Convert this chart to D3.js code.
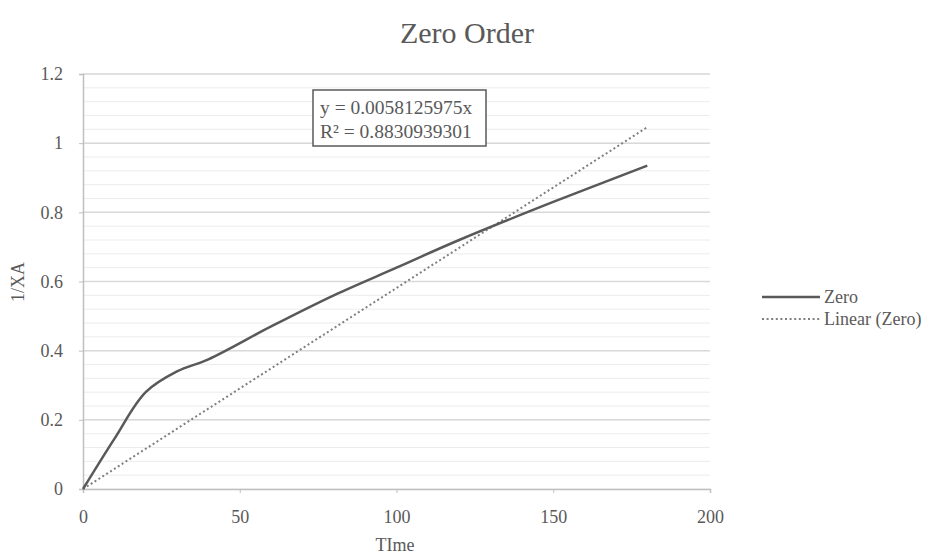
<!DOCTYPE html>
<html><head><meta charset="utf-8">
<script src="https://cdn.jsdelivr.net/npm/d3@7"></script>
<style>body{margin:0;background:#fff}svg{display:block}text{font-family:"Liberation Serif","Times New Roman",serif;fill:#595959}</style>
</head><body><svg id="c" width="940" height="555"></svg>
<script>
const times = [0, 10, 20, 30, 40, 60, 80, 100, 120, 150, 180];
const zeroValues = [0, 0.145, 0.28, 0.34, 0.375, 0.47, 0.56, 0.64, 0.72, 0.83, 0.935];
const slope = 0.0058125975;
const xTicks = [0, 50, 100, 150, 200];
const yTicks = [0, 0.2, 0.4, 0.6, 0.8, 1, 1.2];
const yMinorTicks = d3.range(0, 1.2001, 0.04);
const labels = {title: "Zero Order", x: "TIme", y: "1/XA", series: "Zero", trend: "Linear (Zero)",
  eq: "y = 0.0058125975x", r2: "R² = 0.8830939301"};

const svg = d3.select("#c");
const x = d3.scaleLinear().domain([0, 200]).range([83, 710]);
const y = d3.scaleLinear().domain([0, 1.2]).range([489, 74]);

// minor gridlines
svg.append("g").selectAll("line").data(yMinorTicks).join("line")
  .attr("x1", x(0)).attr("x2", x(200)).attr("y1", d => y(d)).attr("y2", d => y(d))
  .attr("stroke", "#ececec").attr("stroke-width", 1);
// major gridlines
svg.append("g").selectAll("line").data(yTicks.slice(1)).join("line")
  .attr("x1", x(0)).attr("x2", x(200)).attr("y1", d => y(d)).attr("y2", d => y(d))
  .attr("stroke", "#d9d9d9").attr("stroke-width", 1.5);

// axes
const xAxis = svg.append("g").attr("transform", `translate(0,${y(0)})`)
  .call(d3.axisBottom(x).tickValues(xTicks).tickSize(4).tickPadding(17).tickFormat(d3.format("d")));
const yAxis = svg.append("g").attr("transform", `translate(${x(0)},0)`)
  .call(d3.axisLeft(y).tickValues(yTicks).tickSize(4).tickPadding(16).tickFormat(d => d3.format("")(+d.toFixed(1))));
[xAxis, yAxis].forEach(a => {
  a.select(".domain").attr("stroke", "#bfbfbf").attr("stroke-width", 1.5);
  a.selectAll(".tick line").attr("stroke", "#bfbfbf");
  a.selectAll("text").attr("font-size", 18).attr("fill", "#595959")
   .style("font-family", '"Liberation Serif", serif');
});

// trendline
svg.append("line")
  .attr("x1", x(0)).attr("y1", y(0)).attr("x2", x(180)).attr("y2", y(slope * 180))
  .attr("stroke", "#7f7f7f").attr("stroke-width", 2).attr("stroke-dasharray", "2,2.6");

// series
const data = times.map((t, i) => [t, zeroValues[i]]);
svg.append("path").datum(data)
  .attr("d", d3.line().x(d => x(d[0])).y(d => y(d[1])).curve(d3.curveCatmullRom.alpha(0.5)))
  .attr("fill", "none").attr("stroke", "#595959").attr("stroke-width", 2.5);

// title
svg.append("text").attr("x", 467).attr("y", 43).attr("text-anchor", "middle")
  .attr("font-size", 30).text(labels.title);
// axis titles
svg.append("text").attr("x", 395).attr("y", 551).attr("text-anchor", "middle")
  .attr("font-size", 18).text(labels.x);
svg.append("text").attr("transform", "translate(24,282) rotate(-90)").attr("text-anchor", "middle")
  .attr("font-size", 18).text(labels.y);

// equation box
svg.append("rect").attr("x", 313).attr("y", 90).attr("width", 173).attr("height", 56)
  .attr("fill", "#fff").attr("stroke", "#595959").attr("stroke-width", 1.5);
svg.append("text").attr("x", 320).attr("y", 114).attr("font-size", 19.5).text(labels.eq);
svg.append("text").attr("x", 320).attr("y", 138).attr("font-size", 19.5).text(labels.r2);

// legend
svg.append("line").attr("x1", 762).attr("x2", 820).attr("y1", 297).attr("y2", 297)
  .attr("stroke", "#595959").attr("stroke-width", 2.5);
svg.append("text").attr("x", 824).attr("y", 303).attr("font-size", 18).text(labels.series);
svg.append("line").attr("x1", 762).attr("x2", 820).attr("y1", 319).attr("y2", 319)
  .attr("stroke", "#7f7f7f").attr("stroke-width", 2).attr("stroke-dasharray", "2,2.6");
svg.append("text").attr("x", 824).attr("y", 325).attr("font-size", 18).text(labels.trend);
</script></body></html>
